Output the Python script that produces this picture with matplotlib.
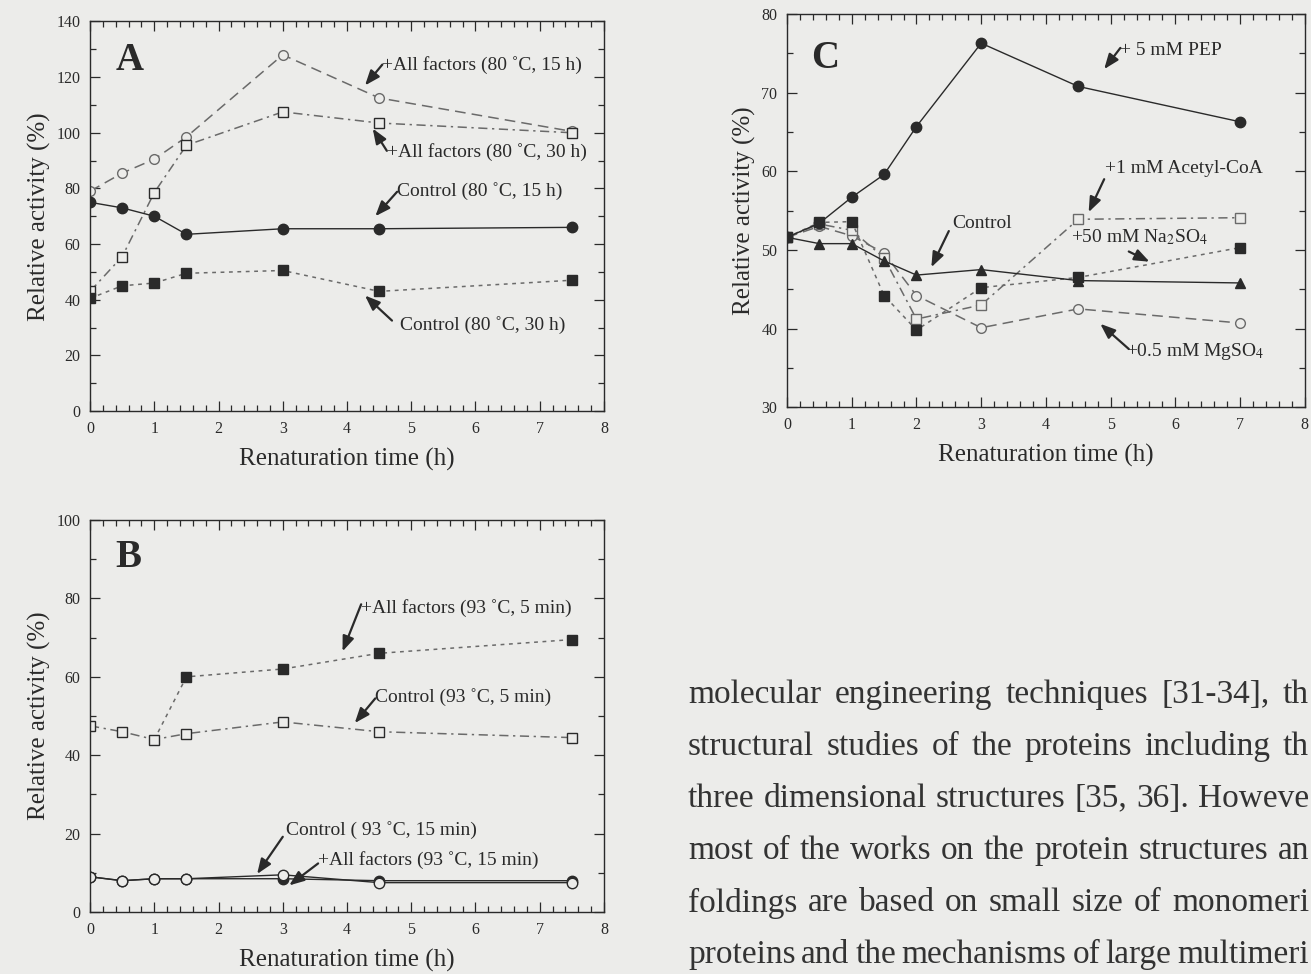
import numpy as np
import matplotlib.pyplot as plt
from matplotlib.ticker import MultipleLocator, AutoMinorLocator

plt.rcParams["font.family"] = ["Liberation Serif", "DejaVu Serif"]
plt.rcParams["mathtext.fontset"] = "stix"

BG = "#ececea"
INK = "#2a2a2a"
GREY = "#6a6a6a"

# ---- panel A data (80 C) ----
t_a = [0, 0.5, 1, 1.5, 3, 4.5, 7.5]
a_ctrl15 = [75, 73, 70, 63.5, 65.5, 65.5, 66]
a_ctrl30 = [40.5, 45, 46, 49.5, 50.5, 43, 47]
a_all15 = [79, 85.5, 90.5, 98.5, 128, 112.5, 100.5]
a_all30 = [43, 55.5, 78.5, 95.5, 107.5, 103.5, 100]

# ---- panel B data (93 C) ----
t_b = [0, 0.5, 1, 1.5, 3, 4.5, 7.5]
b_all5_t = [1, 1.5, 3, 4.5, 7.5]
b_all5 = [44, 60, 62, 66, 69.5]
b_ctrl5 = [47.5, 46, 44, 45.5, 48.5, 46, 44.5]
b_ctrl15 = [9, 8, 8.5, 8.5, 9.5, 7.5, 7.5]
b_all15 = [9, 8, 8.5, 8.5, 8.5, 8, 8]

# ---- panel C data ----
t_c = [0, 0.5, 1, 1.5, 2, 3, 4.5, 7]
c_pep = [51.6, 53.4, 56.7, 59.6, 65.7, 76.3, 70.8, 66.3]
c_ctrl = [51.6, 50.8, 50.8, 48.6, 46.8, 47.5, 46.1, 45.8]
c_acoa = [51.6, 53.3, 52.5, 49.0, 41.2, 43.0, 53.9, 54.1]
c_na = [51.6, 53.5, 53.6, 44.2, 39.8, 45.2, 46.5, 50.3]
c_mg = [51.6, 53.0, 51.8, 49.6, 44.2, 40.1, 42.5, 40.7]

text_lines = [
    "molecular engineering techniques [31-34], th",
    "structural studies of the proteins including th",
    "three dimensional structures [35, 36]. Howeve",
    "most of the works on the protein structures an",
    "foldings are based on small size of monomeri",
    "proteins and the mechanisms of large multimeri",
]

W, H = 1311, 974
fig = plt.figure(figsize=(W / 100, H / 100), dpi=100, facecolor=BG)


def style_axes(ax, ymax, ymajor, ymin=0):
    ax.set_facecolor(BG)
    ax.set_xlim(0, 8)
    ax.set_ylim(ymin, ymax)
    ax.xaxis.set_major_locator(MultipleLocator(1))
    ax.xaxis.set_minor_locator(AutoMinorLocator(5))
    ax.yaxis.set_major_locator(MultipleLocator(ymajor))
    ax.yaxis.set_minor_locator(AutoMinorLocator(2))
    ax.tick_params(which="both", direction="in", top=True, right=True,
                   colors=INK, labelsize=11.5, width=0.9, pad=7)
    ax.tick_params(which="major", length=7)
    ax.tick_params(which="minor", length=4)
    for s in ax.spines.values():
        s.set_color(INK)
        s.set_linewidth(1.0)
    ax.set_xlabel("Renaturation time (h)", fontsize=18, color=INK, labelpad=8)
    ax.set_ylabel("Relative activity (%)", fontsize=18, color=INK, labelpad=4)


def arrow(ax, head, tail):
    ax.annotate("", xy=head, xytext=tail,
                arrowprops=dict(arrowstyle="-|>,head_length=0.9,head_width=0.35",
                                color=INK, lw=1.6, shrinkA=0, shrinkB=0))


def note(ax, x, y, s, **kw):
    ax.text(x, y, s, fontsize=14, color=INK, va="center", ha="left", **kw)


# ---------- Panel A ----------
axA = fig.add_axes([0.0687, 0.578, 0.392, 0.400])
style_axes(axA, 140, 20)
axA.plot(t_a, a_all15, ls=(0, (7, 4)), color=GREY, lw=1.1, marker="o", ms=7,
         mfc=BG, mec=GREY)
axA.plot(t_a, a_all30, ls=(0, (6, 3, 1.5, 3)), color=GREY, lw=1.1, marker="s",
         ms=7.5, mfc=BG, mec=INK)
axA.plot(t_a, a_ctrl15, ls="-", color=INK, lw=1.0, marker="o", ms=7.5, mfc=INK, mec=INK)
axA.plot(t_a, a_ctrl30, ls=(0, (2.5, 3)), color=GREY, lw=1.1, marker="s", ms=7.5,
         mfc=INK, mec=INK)
axA.text(0.4, 126, "A", fontsize=28, fontweight="bold", color=INK, va="center")
arrow(axA, (4.28, 117), (4.55, 124.5))
note(axA, 4.55, 124.5, "+All factors (80 \u02daC, 15 h)")
arrow(axA, (4.4, 101.5), (4.62, 93.5))
note(axA, 4.62, 93.2, "+All factors (80 \u02daC, 30 h)")
arrow(axA, (4.44, 70), (4.78, 78.8))
note(axA, 4.78, 79.2, "Control (80 \u02daC, 15 h)")
arrow(axA, (4.28, 41.5), (4.7, 32.5))
note(axA, 4.82, 30.8, "Control (80 \u02daC, 30 h)")

# ---------- Panel B ----------
axB = fig.add_axes([0.0687, 0.0636, 0.392, 0.4025])
style_axes(axB, 100, 20)
axB.plot(b_all5_t, b_all5, ls=(0, (2.5, 3)), color=GREY, lw=1.1, marker="s", ms=7.5,
         mfc=INK, mec=INK, markevery=[1, 2, 3, 4])
axB.plot(t_b, b_ctrl5, ls=(0, (6, 3, 1.5, 3)), color=GREY, lw=1.1, marker="s", ms=7.5,
         mfc=BG, mec=INK)
axB.plot(t_b, b_all15, ls="-", color=INK, lw=1.0, marker="o", ms=7.5, mfc=INK, mec=INK)
axB.plot(t_b, b_ctrl15, ls="-", color=INK, lw=1.0, marker="o", ms=7.5, mfc=BG, mec=INK)
axB.text(0.4, 90.5, "B", fontsize=28, fontweight="bold", color=INK, va="center")
arrow(axB, (3.93, 66.5), (4.22, 78.5))
note(axB, 4.22, 77.5, "+All factors (93 \u02daC, 5 min)")
arrow(axB, (4.12, 48.2), (4.44, 54.5))
note(axB, 4.44, 54.8, "Control (93 \u02daC, 5 min)")
arrow(axB, (2.6, 9.7), (3.0, 19.2))
note(axB, 3.05, 20.9, "Control ( 93 \u02daC, 15 min)")
arrow(axB, (3.1, 6.8), (3.55, 12.4))
note(axB, 3.55, 13.3, "+All factors (93 \u02daC, 15 min)")

# ---------- Panel C ----------
axC = fig.add_axes([0.6003, 0.582, 0.395, 0.4035])
style_axes(axC, 80, 10, ymin=30)
axC.plot(t_c, c_mg, ls=(0, (7, 4)), color=GREY, lw=1.1, marker="o", ms=7,
         mfc=BG, mec=GREY)
axC.plot(t_c, c_acoa, ls=(0, (6, 3, 1.5, 3)), color=GREY, lw=1.1, marker="s", ms=7.5,
         mfc=BG, mec=GREY)
axC.plot(t_c, c_na, ls=(0, (2.5, 3)), color=GREY, lw=1.1, marker="s", ms=7.5,
         mfc=INK, mec=INK)
axC.plot(t_c, c_ctrl, ls="-", color=INK, lw=1.0, marker="^", ms=7.5, mfc=INK, mec=INK)
axC.plot(t_c, c_pep, ls="-", color=INK, lw=1.0, marker="o", ms=7.5, mfc=INK, mec=INK)
axC.text(0.38, 74.3, "C", fontsize=28, fontweight="bold", color=INK, va="center")
arrow(axC, (4.9, 73.0), (5.15, 75.7))
note(axC, 5.15, 75.4, "+ 5 mM PEP")
arrow(axC, (4.66, 54.8), (4.9, 59.0))
note(axC, 4.92, 60.3, "+1 mM Acetyl-CoA")
arrow(axC, (2.23, 47.8), (2.5, 52.4))
note(axC, 2.55, 53.3, "Control")
arrow(axC, (5.6, 48.5), (5.28, 49.8))
note(axC, 4.38, 51.6, "+50 mM Na$_2$SO$_4$")
arrow(axC, (4.84, 40.6), (5.28, 37.4))
note(axC, 5.24, 37.1, "+0.5 mM MgSO$_4$")

# ---------- body text (justified, runs off the right edge) ----------
renderer = fig.canvas.get_renderer()
x_left, x_right = 688, 1309
for i, line in enumerate(text_lines):
    y = 1 - (695 + 52 * i) / H
    words = line.split()
    objs = [fig.text(0, y, w, fontsize=24, color="#333333", va="center", ha="left")
            for w in words]
    widths = [o.get_window_extent(renderer).width for o in objs]
    gap = (x_right - x_left - sum(widths)) / (len(words) - 1)
    x = x_left
    for o, w in zip(objs, widths):
        o.set_x(x / W)
        x += w + gap

fig.savefig("out.png", dpi=100, facecolor=BG)
